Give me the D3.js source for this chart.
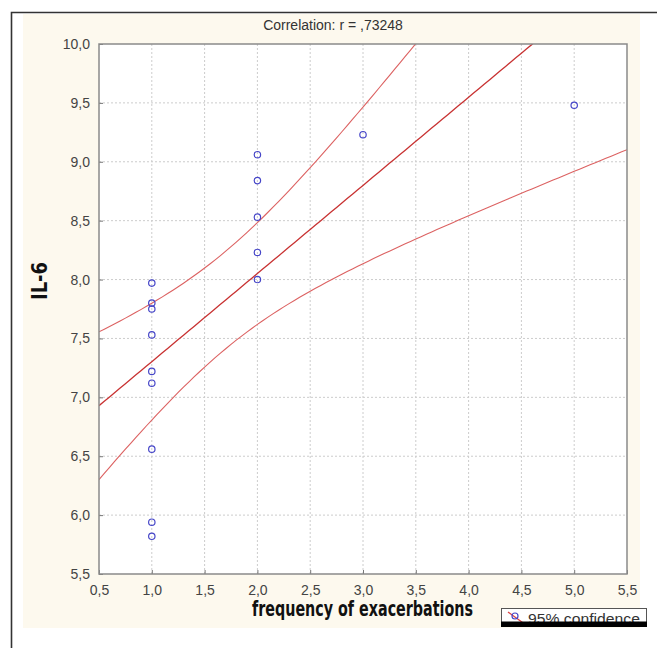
<!DOCTYPE html>
<html>
<head>
<meta charset="utf-8">
<script src="https://cdn.jsdelivr.net/npm/d3@7"></script>
<style>
  body { margin: 0; background: #fff; }
  text { font-family: "Liberation Sans", Arial, sans-serif; }
</style>
</head>
<body>
<div id="chart"></div>
<script>
// data
var freq = [1, 1, 1, 1, 1, 1, 1, 1, 1, 2, 2, 2, 2, 2, 3, 5];
var il6 = [7.97, 7.80, 7.75, 7.53, 7.22, 7.12, 6.56, 5.94, 5.82, 9.06, 8.84, 8.53, 8.23, 8.00, 9.23, 9.48];
var xTicks = [0.5, 1.0, 1.5, 2.0, 2.5, 3.0, 3.5, 4.0, 4.5, 5.0, 5.5];
var yTicks = [5.5, 6.0, 6.5, 7.0, 7.5, 8.0, 8.5, 9.0, 9.5, 10.0];
var title = "Correlation: r = ,73248";
var tCrit = 2.1448; // t(0.975, df = 14)

var svgWidth = 657;
var svgHeight = 648;

var margin = { top: 44, right: 30, bottom: 74, left: 99 };
var width = svgWidth - margin.left - margin.right;
var height = svgHeight - margin.top - margin.bottom;

var svg = d3.select("#chart")
  .append("svg")
  .attr("width", svgWidth)
  .attr("height", svgHeight);

// outer frame + cream panel
svg.append("rect").attr("x", 23).attr("y", 14).attr("width", 617).attr("height", 614).attr("fill", "#fdf9ee");
svg.append("path").attr("d", "M11.5,648 V12.5 H657").attr("fill", "none").attr("stroke", "#333").attr("stroke-width", 1.6);

var chartGroup = svg.append("g")
  .attr("transform", `translate(${margin.left}, ${margin.top})`);

var x = d3.scaleLinear().domain([0.5, 5.5]).range([0, width]);
var y = d3.scaleLinear().domain([5.5, 10]).range([height, 0]);

var fmt = function (v) { return d3.format(".1f")(v).replace(".", ","); };

chartGroup.append("rect").attr("width", width).attr("height", height).attr("fill", "#fff");

// grid
chartGroup.selectAll(".gx").data(xTicks.slice(1, -1)).enter().append("line")
  .attr("x1", d => x(d)).attr("x2", d => x(d)).attr("y1", 0).attr("y2", height)
  .attr("stroke", "#cccccc").attr("stroke-dasharray", "2,2");
chartGroup.selectAll(".gy").data(yTicks.slice(1, -1)).enter().append("line")
  .attr("y1", d => y(d)).attr("y2", d => y(d)).attr("x1", 0).attr("x2", width)
  .attr("stroke", "#cccccc").attr("stroke-dasharray", "2,2");

// axes
var bottomAxis = d3.axisBottom(x).tickValues(xTicks).tickFormat(fmt).tickSizeInner(-4).tickSizeOuter(0).tickPadding(11);
var leftAxis = d3.axisLeft(y).tickValues(yTicks).tickFormat(fmt).tickSizeInner(-4).tickSizeOuter(0).tickPadding(9);

var gx = chartGroup.append("g").attr("transform", `translate(0, ${height})`).call(bottomAxis);
var gy = chartGroup.append("g").call(leftAxis);
[gx, gy].forEach(function (g) {
  g.select(".domain").remove();
  g.selectAll("line").attr("stroke", "#777");
  g.selectAll("text").attr("fill", "#444").style("font-size", "14px");
});

// regression and 95% band
var n = freq.length;
var mx = d3.mean(freq), my = d3.mean(il6);
var sxx = d3.sum(freq, d => (d - mx) * (d - mx));
var sxy = d3.sum(freq, (d, i) => (d - mx) * (il6[i] - my));
var slope = sxy / sxx;
var icpt = my - slope * mx;
var sse = d3.sum(freq, (d, i) => Math.pow(il6[i] - (icpt + slope * d), 2));
var s = Math.sqrt(sse / (n - 2));

var xs = d3.range(0.5, 5.5001, 0.05);
var band = function (sign) {
  return xs.map(function (v) {
    var fit = icpt + slope * v;
    return [v, fit + sign * tCrit * s * Math.sqrt(1 / n + (v - mx) * (v - mx) / sxx)];
  });
};

chartGroup.append("clipPath").attr("id", "clip").append("rect").attr("width", width).attr("height", height);

var line = d3.line().x(d => x(d[0])).y(d => y(d[1]));
var lines = chartGroup.append("g").attr("clip-path", "url(#clip)");
lines.append("path").datum(band(1)).attr("d", line).attr("fill", "none").attr("stroke", "#dc6262").attr("stroke-width", 1.1);
lines.append("path").datum(band(-1)).attr("d", line).attr("fill", "none").attr("stroke", "#dc6262").attr("stroke-width", 1.1);
lines.append("path").datum(xs.map(v => [v, icpt + slope * v])).attr("d", line).attr("fill", "none").attr("stroke", "#c83232").attr("stroke-width", 1.3);

// frame of plot area
chartGroup.append("rect").attr("width", width).attr("height", height).attr("fill", "none").attr("stroke", "#8a8a8a").attr("stroke-width", 1.5);

// points
chartGroup.selectAll("circle").data(freq).enter().append("circle")
  .attr("cx", d => x(d))
  .attr("cy", (d, i) => y(il6[i]))
  .attr("r", 3.2)
  .attr("fill", "none")
  .attr("stroke", "#4646c8")
  .attr("stroke-width", 1.2);

// labels
svg.append("text").attr("x", 333).attr("y", 30).attr("text-anchor", "middle")
  .attr("fill", "#333").style("font-size", "14px").text(title);

svg.append("text")
  .attr("transform", "translate(47, 281) rotate(-90)")
  .attr("text-anchor", "middle")
  .style("font-family", "'Liberation Sans Narrow', 'DejaVu Sans Condensed', sans-serif")
  .style("font-weight", "bold").style("font-size", "21px").attr("fill", "#111")
  .attr("textLength", 38).attr("lengthAdjust", "spacingAndGlyphs")
  .text("IL-6");

svg.append("text")
  .attr("x", 252).attr("y", 616)
  .style("font-family", "'Liberation Sans Narrow', 'DejaVu Sans Condensed', sans-serif")
  .style("font-weight", "bold").style("font-size", "21px").attr("fill", "#111")
  .attr("textLength", 221).attr("lengthAdjust", "spacingAndGlyphs")
  .text("frequency of exacerbations");

// legend
var lg = svg.append("g");
lg.append("rect").attr("x", 501.5).attr("y", 608.5).attr("width", 145).attr("height", 18).attr("fill", "#fff").attr("stroke", "#555");
lg.append("line").attr("x1", 508).attr("y1", 612).attr("x2", 526).attr("y2", 625).attr("stroke", "#dc4040").attr("stroke-width", 1.2);
lg.append("circle").attr("cx", 515).attr("cy", 616).attr("r", 3).attr("fill", "none").attr("stroke", "#4646c8").attr("stroke-width", 1.2);
lg.append("text").attr("x", 528).attr("y", 624).attr("fill", "#333").style("font-size", "15px")
  .attr("textLength", 112).attr("lengthAdjust", "spacingAndGlyphs").text("95% confidence");
lg.append("rect").attr("x", 501).attr("y", 621.5).attr("width", 146).attr("height", 5.5).attr("fill", "#000");
</script>
</body>
</html>
